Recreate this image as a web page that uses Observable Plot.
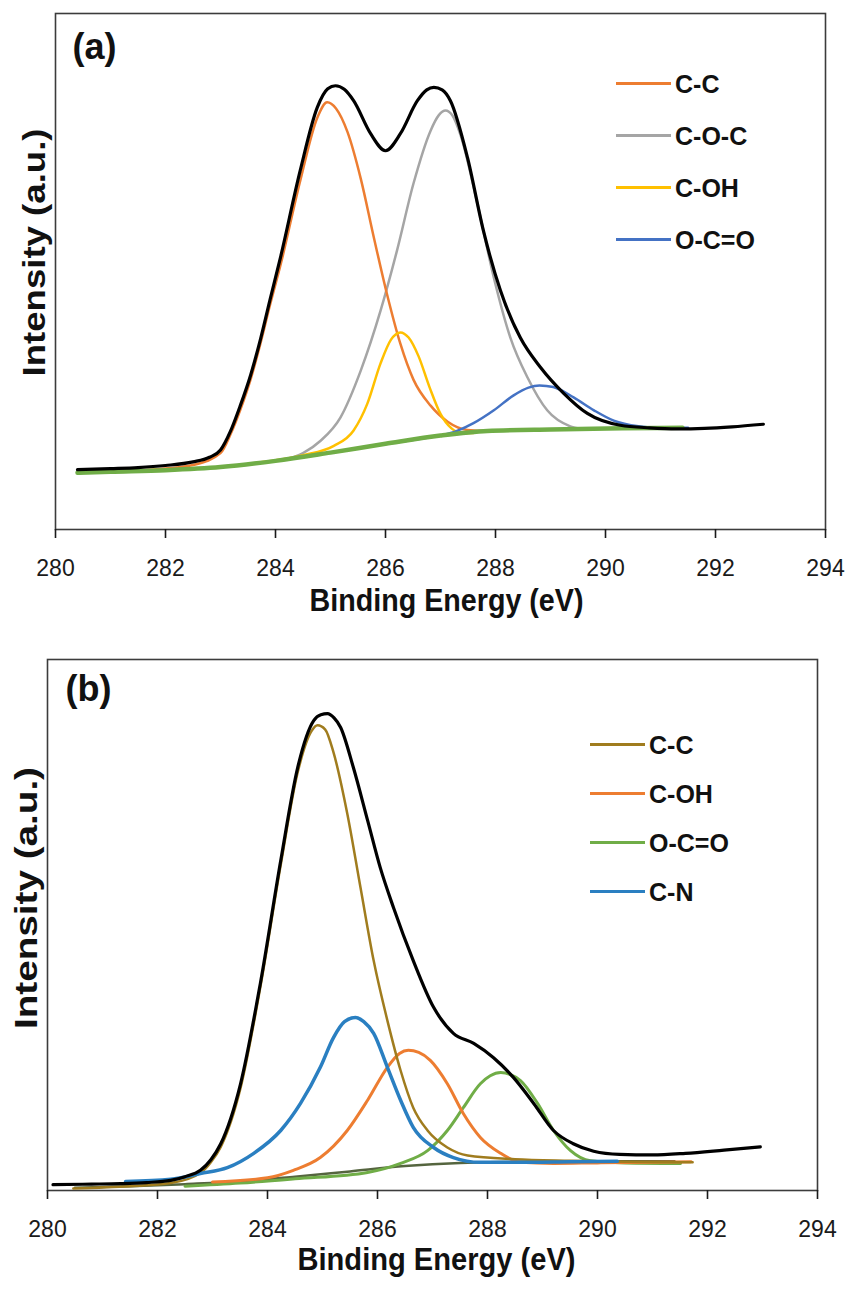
<!DOCTYPE html>
<html>
<head>
<meta charset="utf-8">
<script src="https://cdn.jsdelivr.net/npm/d3@7"></script>
<script src="https://cdn.jsdelivr.net/npm/@observablehq/plot@0.6"></script>
<style>
  body { margin: 0; background: #fff; }
  .panel { position: relative; width: 849px; }
  .panel svg { display: block; }
  .leg { position: absolute; display: flex; align-items: center; font-weight: bold; font-size: 25px; color: #111; line-height: 1; }
  .leg .sw { display: inline-block; width: 55px; height: 3px; margin-right: 4px; }
  .f { font-family: "Liberation Sans", Arial, sans-serif; }
</style>
</head>
<body>
<div id="pa" class="panel f" style="height:640px"></div>
<div id="pb" class="panel f" style="height:651px"></div>
<script>
const FONT = '"Liberation Sans", Arial, sans-serif';
const xTicks = [280, 282, 284, 286, 288, 290, 292, 294];
const xTitle = "Binding Energy (eV)";
const yTitle = "Intensity (a.u.)";

// ---------- Panel (a) ----------
const aLabels = ["C-C", "C-O-C", "C-OH", "O-C=O"];
const aColors = ["#ed7d31", "#a5a5a5", "#ffc000", "#4472c4"];

const aEnvE = [280.4, 281, 281.5, 282, 282.5, 282.8, 283.0, 283.18, 283.36, 283.55, 283.73, 283.9, 284.09, 284.45, 284.76, 284.95, 285.09, 285.25, 285.42, 285.73, 286.0, 286.27, 286.58, 286.75, 286.88, 287.03, 287.18, 287.49, 287.78, 288.09, 288.45, 288.82, 289.24, 289.67, 290.27, 290.8, 291.3, 291.8, 292.3, 292.87];
const aEnvI = [11.6, 11.8, 12.0, 12.4, 13.1, 14.0, 15.4, 19.0, 24.0, 30.0, 37.0, 44.5, 52.7, 69.6, 81.8, 85.4, 86.0, 85.3, 83.1, 76.7, 73.4, 76.7, 83.1, 85.2, 85.7, 85.2, 83.1, 72.1, 57.9, 46.3, 37.2, 31.4, 26.4, 22.5, 20.2, 19.7, 19.5, 19.6, 19.9, 20.4];

const aCCE = [280.4, 281, 282, 282.5, 283.0, 283.18, 283.36, 283.55, 283.73, 283.9, 284.09, 284.45, 284.76, 284.94, 285.1, 285.31, 285.55, 285.79, 286.03, 286.27, 286.51, 286.82, 287.13, 287.49, 287.85, 288.5, 289.5, 290.5, 291.4];
const aCCI = [11.0, 11.2, 11.8, 12.5, 14.8, 18.4, 23.2, 29.2, 36.2, 43.5, 51.2, 67.6, 79.8, 82.8, 81.6, 77.0, 68.0, 56.5, 45.5, 36.0, 29.0, 24.0, 20.9, 19.3, 19.1, 19.3, 19.5, 19.6, 19.7];

const aCOCE = [284.2, 284.5, 284.82, 285.18, 285.55, 285.91, 286.21, 286.51, 286.82, 286.97, 287.09, 287.22, 287.36, 287.67, 287.97, 288.27, 288.58, 288.94, 289.36, 289.6];
const aCOCI = [13.6, 14.8, 17.2, 21.7, 30.8, 42.4, 54.1, 67.1, 77.3, 80.3, 81.2, 80.2, 76.6, 63.2, 48.8, 37.2, 29.5, 23.1, 20.0, 19.5];

const aCOHE = [283.5, 284.0, 284.5, 285.06, 285.42, 285.67, 285.91, 286.1, 286.27, 286.42, 286.6, 286.8, 287.0, 287.2, 287.4, 287.6];
const aCOHI = [12.7, 13.4, 14.4, 16.2, 19.2, 24.4, 32.2, 36.8, 38.2, 37.2, 33.6, 27.6, 22.4, 19.6, 18.7, 18.7];

const aOCOE = [285.5, 286.03, 286.64, 287.0, 287.3, 287.6, 287.97, 288.33, 288.6, 288.8, 289.05, 289.42, 289.79, 290.15, 290.6, 291.0, 291.5];
const aOCOI = [15.8, 16.6, 17.6, 18.2, 19.1, 20.6, 23.1, 26.0, 27.5, 27.9, 27.6, 25.6, 23.1, 21.1, 20.0, 19.7, 19.7];

const aBgE = [280.4, 281, 282, 283, 284, 285, 286, 287, 287.85, 289, 290.3, 291.4];
const aBgI = [11.0, 11.2, 11.5, 12.1, 13.3, 14.9, 16.6, 18.2, 19.1, 19.4, 19.6, 19.7];

// ---------- Panel (b) ----------
const bLabels = ["C-C", "C-OH", "O-C=O", "C-N"];
const bColors = ["#a07c1e", "#ed7d31", "#70ad47", "#2a7fc1"];

const bEnvE = [280.1, 280.8, 281.33, 281.8, 282.24, 282.5, 282.78, 282.97, 283.15, 283.51, 283.87, 284.24, 284.55, 284.84, 284.97, 285.09, 285.21, 285.33, 285.56, 285.82, 286.05, 286.29, 286.65, 287.02, 287.38, 287.75, 288.11, 288.47, 288.84, 289.2, 289.56, 289.93, 290.4, 291.0, 291.6, 292.3, 292.96];
const bEnvI = [1.1, 1.2, 1.3, 1.5, 1.9, 2.6, 3.8, 5.8, 8.8, 20.1, 39.0, 62.1, 79.7, 88.5, 89.6, 89.8, 89.0, 87.2, 79.7, 69.7, 60.8, 53.3, 43.3, 34.5, 29.6, 27.7, 25.0, 21.3, 16.4, 11.3, 8.8, 7.4, 6.8, 6.7, 7.0, 7.6, 8.2];

const bCCE = [280.47, 281.5, 282.24, 282.78, 282.97, 283.15, 283.51, 283.87, 284.24, 284.55, 284.8, 284.91, 285.05, 285.2, 285.45, 285.69, 285.93, 286.18, 286.42, 286.65, 286.91, 287.27, 287.64, 288.5, 289.5, 290.5, 291.73];
const bCCI = [0.4, 0.8, 1.4, 3.3, 5.3, 8.2, 19.3, 38.3, 61.3, 78.8, 86.5, 87.6, 86.8, 82.5, 71.0, 57.1, 43.3, 32.0, 22.6, 15.6, 11.3, 8.1, 6.6, 5.9, 5.6, 5.4, 5.3];

const bCOHE = [283.0, 284.0, 284.47, 284.96, 285.45, 285.82, 286.18, 286.4, 286.56, 286.75, 286.96, 287.27, 287.56, 287.87, 288.24, 288.6, 289.2, 290.0, 291.0, 291.7];
const bCOHI = [1.6, 2.4, 3.8, 6.2, 11.3, 17.0, 23.2, 25.8, 26.4, 26.0, 24.5, 20.1, 14.5, 10.0, 7.0, 5.3, 5.1, 5.2, 5.3, 5.4];

const bOCOE = [282.5, 283.5, 284.5, 285.82, 286.42, 286.91, 287.27, 287.56, 287.87, 288.05, 288.24, 288.42, 288.6, 288.91, 289.2, 289.51, 289.87, 290.5, 291.51];
const bOCOI = [0.8, 1.4, 2.2, 3.4, 5.1, 7.5, 11.3, 15.6, 20.1, 21.6, 22.2, 21.8, 20.7, 16.4, 11.3, 7.5, 5.6, 5.2, 5.1];

const bCNE = [281.42, 282.24, 282.78, 283.27, 283.75, 284.24, 284.6, 284.96, 285.2, 285.4, 285.6, 285.75, 285.93, 286.18, 286.42, 286.65, 287.02, 287.38, 287.87, 288.5, 289.5, 290.36];
const bCNI = [1.7, 2.1, 3.2, 4.3, 7.0, 11.3, 16.4, 23.2, 28.8, 31.8, 32.6, 31.8, 29.6, 23.2, 17.0, 11.9, 8.1, 6.2, 5.3, 5.3, 5.4, 5.5];

const bBgE = [280.5, 281.5, 282.5, 283.5, 284.5, 285.5, 286.5, 287.5, 288.5, 289.5, 291.4];
const bBgI = [0.5, 0.8, 1.2, 1.7, 2.6, 3.6, 4.6, 5.2, 5.4, 5.5, 5.5];

const ser = (E, I) => E.map((e, i) => ({e, v: I[i]}));
const ln = (E, I, stroke, w) => Plot.line(ser(E, I), {x: "e", y: "v", stroke, strokeWidth: w, curve: "monotone-x", strokeLinejoin: "round", strokeLinecap: "round"});

function panel({height, mt, mb, ml, mr, lines, tag, tagDx, tagDy, xtDy, xtDx, ytDx, ytDy}) {
  return Plot.plot({
    width: 849, height,
    marginTop: mt, marginBottom: mb, marginLeft: ml, marginRight: mr,
    style: {fontFamily: FONT, color: "#1a1a1a", background: "transparent"},
    x: {domain: [280, 294]},
    y: {domain: [0, 100], axis: null},
    marks: [
      Plot.frame({stroke: "#3c3c3c", strokeWidth: 1.6}),
      Plot.axisX({ticks: xTicks, tickSize: 9, tickPadding: 21, fontSize: 23, label: null, tickFormat: d => String(d), strokeWidth: 1.6}),
      ...lines,
      Plot.text([tag], {frameAnchor: "top-left", textAnchor: "start", lineAnchor: "top", dx: tagDx, dy: tagDy, fontSize: 36, fontWeight: "bold", fill: "#111"}),
      Plot.text([xTitle], {className: "xtitle", frameAnchor: "bottom", textAnchor: "middle", dx: xtDx, dy: xtDy, fontSize: 31, fontWeight: "bold", fill: "#111"}),
      Plot.text([yTitle], {className: "ytitle", frameAnchor: "left", textAnchor: "middle", rotate: -90, dx: ytDx, dy: ytDy, fontSize: 31, fontWeight: "bold", fill: "#111"})
    ]
  });
}

function squeeze(svg, xLen, yLen) {
  svg.querySelectorAll(".xtitle text").forEach(t => { t.setAttribute("textLength", xLen); t.setAttribute("lengthAdjust", "spacingAndGlyphs"); });
  svg.querySelectorAll(".ytitle text").forEach(t => { t.setAttribute("textLength", yLen); t.setAttribute("lengthAdjust", "spacingAndGlyphs"); });
}

const pa = panel({
  height: 640, mt: 13, mb: 111, ml: 55, mr: 24,
  tag: "(a)", tagDx: 17, tagDy: 20, xtDx: 6, xtDy: 81, ytDx: -20, ytDy: -19,
  lines: [
    ln(aCOCE, aCOCI, aColors[1], 2.5),
    ln(aCCE, aCCI, aColors[0], 2.5),
    ln(aCOHE, aCOHI, aColors[2], 2.5),
    ln(aOCOE, aOCOI, aColors[3], 2.5),
    ln(aBgE, aBgI, "#70ad47", 4.5),
    ln(aEnvE, aEnvI, "#000", 3.2)
  ]
});
squeeze(pa, 274, 248);
document.getElementById("pa").appendChild(pa);

const pb = panel({
  height: 651, mt: 19, mb: 101, ml: 47, mr: 32,
  tag: "(b)", tagDx: 18, tagDy: 16, xtDx: 4, xtDy: 79, ytDx: -20, ytDy: -27,
  lines: [
    ln(bBgE, bBgI, "#55653f", 2.5),
    ln(bOCOE, bOCOI, bColors[2], 3),
    ln(bCOHE, bCOHI, bColors[1], 3),
    ln(bCCE, bCCI, bColors[0], 2.5),
    ln(bCNE, bCNI, bColors[3], 3.5),
    ln(bEnvE, bEnvI, "#000", 3.2)
  ]
});
squeeze(pb, 278, 262);
document.getElementById("pb").appendChild(pb);

function legend(containerId, labels, colors, left, tops) {
  const c = document.getElementById(containerId);
  labels.forEach((lab, i) => {
    const d = document.createElement("div");
    d.className = "leg";
    d.style.left = left + "px";
    d.style.top = (tops[i] - 12) + "px";
    d.style.height = "25px";
    const sw = document.createElement("span");
    sw.className = "sw";
    sw.style.background = colors[i];
    const t = document.createElement("span");
    t.textContent = lab;
    t.style.position = "relative";
    t.style.top = "1px";
    d.appendChild(sw); d.appendChild(t);
    c.appendChild(d);
  });
}
legend("pa", aLabels, aColors, 616, [83, 135, 187, 239]);
legend("pb", bLabels, bColors, 590, [744 - 640, 793 - 640, 842 - 640, 891 - 640]);
</script>
</body>
</html>
